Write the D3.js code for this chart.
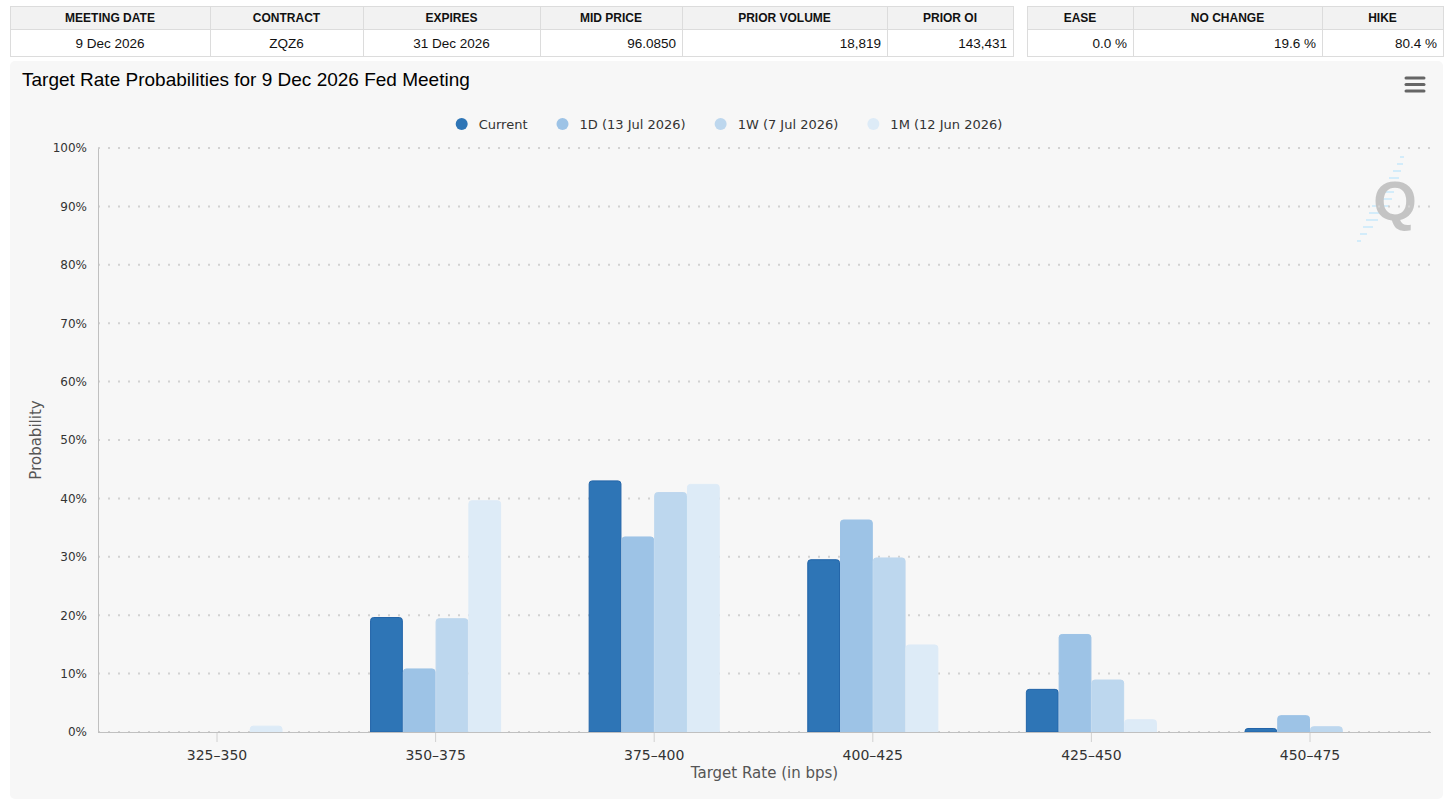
<!DOCTYPE html>
<html>
<head>
<meta charset="utf-8">
<script src="https://cdn.jsdelivr.net/npm/d3@7"></script>
<style>
  body { margin: 0; background: #fff; }
  svg { display: block; }
</style>
</head>
<body>
<div id="graph"></div>
<script>
// ---- data ----
const categories = ['325–350', '350–375', '375–400', '400–425', '425–450', '450–475']
const seriesNames = ['Current', '1D (13 Jul 2026)', '1W (7 Jul 2026)', '1M (12 Jun 2026)']
const seriesColors = ['#2e75b6', '#9dc3e6', '#bdd7ee', '#ddebf7']

const currentValues = [0, 19.6, 43.0, 29.5, 7.3, 0.6]
const oneDayValues = [0, 10.8, 33.4, 36.3, 16.7, 2.8]
const oneWeekValues = [0, 19.4, 41.0, 29.8, 8.9, 0.9]
const oneMonthValues = [1.0, 39.6, 42.4, 14.9, 2.1, 0]

const yTicks = [0, 10, 20, 30, 40, 50, 60, 70, 80, 90, 100]

const infoHeaders = ['MEETING DATE', 'CONTRACT', 'EXPIRES', 'MID PRICE', 'PRIOR VOLUME', 'PRIOR OI']
const infoValues = ['9 Dec 2026', 'ZQZ6', '31 Dec 2026', '96.0850', '18,819', '143,431']
const probHeaders = ['EASE', 'NO CHANGE', 'HIKE']
const probValues = ['0.0 %', '19.6 %', '80.4 %']

const allSeries = [currentValues, oneDayValues, oneWeekValues, oneMonthValues]

// ---- layout ----
const W = 1456, H = 806
const svg = d3.select('#graph').append('svg').attr('width', W).attr('height', H)

// tables at the top
function drawTable(edges, headers, values, aligns) {
  const g = svg.append('g')
  const top = 6, headH = 23, bodyH = 27
  headers.forEach((h, i) => {
    const x0 = edges[i], x1 = edges[i + 1]
    g.append('rect').attr('x', x0 + 0.5).attr('y', top + 0.5).attr('width', x1 - x0).attr('height', headH)
      .attr('fill', '#f2f2f2').attr('stroke', '#dcdcdc')
    g.append('rect').attr('x', x0 + 0.5).attr('y', top + headH + 0.5).attr('width', x1 - x0).attr('height', bodyH)
      .attr('fill', '#fff').attr('stroke', '#dcdcdc')
    g.append('text').attr('x', (x0 + x1) / 2).attr('y', top + 16)
      .attr('text-anchor', 'middle')
      .style('font', 'bold 12px "Liberation Sans", Arial, sans-serif').attr('fill', '#111')
      .text(h)
    const right = aligns[i] === 'right'
    g.append('text').attr('x', right ? x1 - 6 : (x0 + x1) / 2).attr('y', top + headH + 19)
      .attr('text-anchor', right ? 'end' : 'middle')
      .style('font', '13.5px "Liberation Sans", Arial, sans-serif').attr('fill', '#111')
      .text(values[i])
  })
}
drawTable([10, 210, 363, 540, 682, 887, 1013], infoHeaders, infoValues,
  ['center', 'center', 'center', 'right', 'right', 'right'])
drawTable([1027, 1133, 1322, 1443], probHeaders, probValues, ['right', 'right', 'right'])

// chart panel
svg.append('rect').attr('x', 10).attr('y', 61).attr('width', 1433).attr('height', 738)
  .attr('rx', 5).attr('fill', '#f7f7f7')

svg.append('text').attr('x', 22).attr('y', 86)
  .style('font', '19px "Liberation Sans", Arial, sans-serif').attr('fill', '#000')
  .text('Target Rate Probabilities for 9 Dec 2026 Fed Meeting')

// menu icon
;[78, 84.5, 91].forEach((yy) => {
  svg.append('line').attr('x1', 1406).attr('x2', 1424).attr('y1', yy).attr('y2', yy)
    .attr('stroke', '#666').attr('stroke-width', 3).attr('stroke-linecap', 'round')
})

// watermark
const wm = svg.append('g')
const dashes = [[1400, 157, 4], [1397, 164, 6], [1393, 171, 8], [1389, 178, 10], [1385, 185, 12],
  [1380, 192, 14], [1376, 199, 16], [1372, 206, 17], [1369, 213, 16], [1366, 220, 12],
  [1363, 227, 10], [1360, 234, 7], [1357, 241, 4]]
dashes.forEach(([x, y, l]) => {
  wm.append('line').attr('x1', x).attr('x2', x + l).attr('y1', y).attr('y2', y)
    .attr('stroke', '#d3ecfa').attr('stroke-width', 2)
})
wm.append('text').attr('x', 1395).attr('y', 220).attr('text-anchor', 'middle')
  .style('font', 'bold 56px "Liberation Sans", Arial, sans-serif').attr('fill', '#c4c4c4')
  .text('Q')

// scales
const plotLeft = 98, plotRight = 1431, plotTop = 148, plotBottom = 732
const x0 = d3.scaleBand().domain(categories).range([107.7, 1419.3])
  .paddingInner(0.405).paddingOuter(0.2025)
const x1 = d3.scaleBand().domain(seriesNames).range([0, x0.bandwidth()]).paddingInner(0.03)
const y = d3.scaleLinear().domain([0, 100]).range([plotBottom, plotTop])

const font = '"DejaVu Sans", Verdana, sans-serif'

// grid lines (dotted)
svg.append('g').selectAll('line').data(yTicks).join('line')
  .attr('x1', plotLeft).attr('x2', plotRight)
  .attr('y1', (d) => y(d)).attr('y2', (d) => y(d))
  .attr('stroke', '#d2d2d2').attr('stroke-width', 2).attr('stroke-dasharray', '2,8')

// y axis
const yAxis = svg.append('g').attr('transform', `translate(${plotLeft},0)`)
  .call(d3.axisLeft(y).tickValues(yTicks).tickFormat((d) => `${d}%`).tickSize(0).tickPadding(11))
yAxis.select('.domain').attr('stroke', '#c0c0c0')
yAxis.selectAll('text').style('font', `12px ${font}`).attr('fill', '#333')

// bars
const groups = svg.append('g').selectAll('g').data(categories).join('g')
  .attr('transform', (d) => `translate(${x0(d)},0)`)

function topRounded(x, yy, w, h, r) {
  r = Math.min(r, h, w / 2)
  return `M${x},${yy + h}V${yy + r}Q${x},${yy} ${x + r},${yy}H${x + w - r}Q${x + w},${yy} ${x + w},${yy + r}V${yy + h}Z`
}

groups.selectAll('path')
  .data((cat, ci) => seriesNames.map((s, si) => ({ s, si, v: allSeries[si][ci] })).filter((d) => d.v > 0))
  .join('path')
  .attr('d', (d) => topRounded(x1(d.s), y(d.v), x1.bandwidth(), y(0) - y(d.v), 3))
  .attr('fill', (d) => seriesColors[d.si])
  .attr('stroke', (d) => (d.si === 0 ? '#2264a8' : seriesColors[d.si]))
  .attr('stroke-width', 1)

// x axis
const xAxis = svg.append('g').attr('transform', `translate(0,${plotBottom})`)
  .call(d3.axisBottom(x0).tickSize(10).tickPadding(8))
xAxis.select('.domain').remove()
svg.append('line').attr('x1', plotLeft).attr('x2', plotRight)
  .attr('y1', plotBottom + 0.5).attr('y2', plotBottom + 0.5).attr('stroke', '#c0c0c0')
xAxis.selectAll('.tick line').attr('stroke', '#d0d0d0')
xAxis.selectAll('text').style('font', `14px ${font}`).attr('fill', '#333')

// axis titles
svg.append('text').attr('x', (plotLeft + plotRight) / 2).attr('y', 778)
  .attr('text-anchor', 'middle').style('font', `15px ${font}`).attr('fill', '#555')
  .text('Target Rate (in bps)')
svg.append('text').attr('transform', `translate(41,${(plotTop + plotBottom) / 2}) rotate(-90)`)
  .attr('text-anchor', 'middle').style('font', `15px ${font}`).attr('fill', '#555')
  .text('Probability')

// legend
const legend = svg.append('g')
let lx = 0
seriesNames.forEach((name, i) => {
  const item = legend.append('g').attr('transform', `translate(${lx},0)`)
  item.append('circle').attr('cx', 0).attr('cy', 0).attr('r', 6).attr('fill', seriesColors[i])
  const t = item.append('text').attr('x', 17).attr('y', 0).attr('dy', '0.35em')
    .style('font', `13px ${font}`).attr('fill', '#333').text(name)
  lx += 17 + t.node().getComputedTextLength() + 35
})
const legendWidth = lx - 35 + 6
legend.attr('transform', `translate(${729 - legendWidth / 2 + 6},124)`)
</script>
</body>
</html>
